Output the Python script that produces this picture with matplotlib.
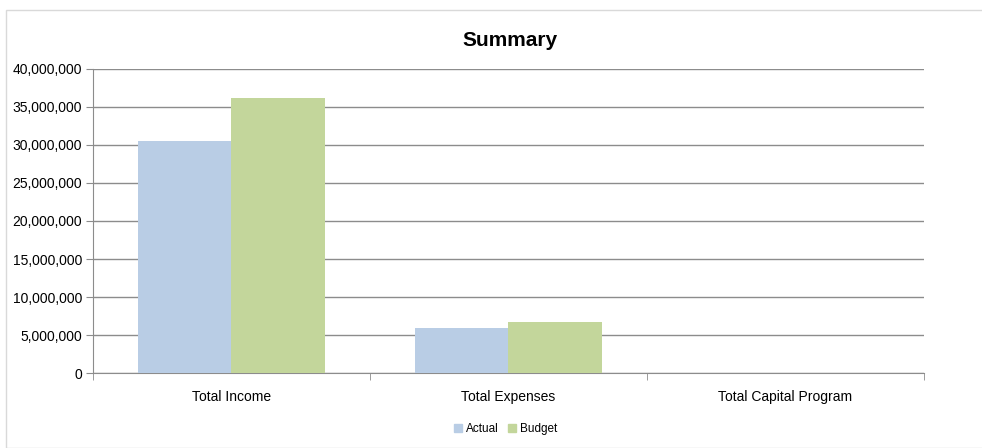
import matplotlib.pyplot as plt
import matplotlib.ticker as mticker
import numpy as np
from matplotlib.patches import Rectangle, Patch

plt.rcParams['font.family'] = ['Liberation Sans', 'DejaVu Sans']

# 数据
categories = ['Total Income', 'Total Expenses', 'Total Capital Program']
actual = [30500000, 5950000, 0]
budget = [36150000, 6750000, 0]

c_actual = '#b9cde5'
c_budget = '#c3d69b'
grid_c = '#8c8c8c'

fig = plt.figure(figsize=(9.82, 4.48), dpi=100)
fig.patches.append(Rectangle((0.006, 0.0), 1.2, 0.978, transform=fig.transFigure,
                             fill=False, edgecolor='#d9d9d9', linewidth=1))
ax = fig.add_axes([0.0947, 0.1674, 0.8462, 0.6786])

x = np.arange(len(categories))
w = 0.336
ax.bar(x - w / 2, actual, w, color=c_actual, label='Actual', zorder=3)
ax.bar(x + w / 2, budget, w, color=c_budget, label='Budget', zorder=3)

ax.set_xlim(-0.5, 2.5)
ax.set_ylim(0, 40000000)
ax.yaxis.set_major_locator(mticker.MultipleLocator(5000000))
ax.yaxis.set_major_formatter(mticker.FuncFormatter(lambda v, p: f'{int(v):,}'))
ax.grid(axis='y', color=grid_c, linewidth=1, zorder=0)

ax.set_xticks(x)
ax.set_xticklabels(categories)
ax.set_xticks([-0.5, 0.5, 1.5, 2.5], minor=True)
ax.tick_params(axis='x', which='major', length=0, pad=12, labelsize=10)
ax.tick_params(axis='x', which='minor', length=5, color=grid_c)
ax.tick_params(axis='y', length=5, color=grid_c, labelsize=10, pad=3)

for s in ['top', 'right']:
    ax.spines[s].set_visible(False)
ax.spines['left'].set_color(grid_c)
ax.spines['bottom'].set_color(grid_c)

fig.text(0.519, 0.91, 'Summary', ha='center', va='center', fontsize=15, fontweight='bold')

handles = [Patch(color=c_actual, label='Actual'), Patch(color=c_budget, label='Budget')]
fig.legend(handles=handles, loc='center', bbox_to_anchor=(0.515, 0.042), ncol=2, frameon=False,
           fontsize=8.5, handlelength=0.7, handleheight=0.7, handletextpad=0.3, columnspacing=0.8)

fig.savefig('out.png', dpi=100)
